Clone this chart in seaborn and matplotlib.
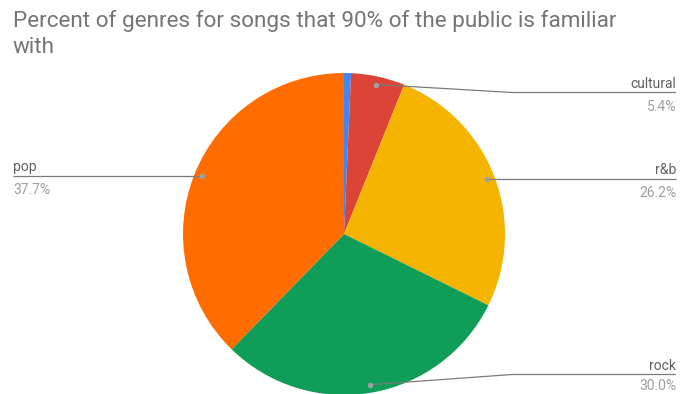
import numpy as np
import matplotlib
matplotlib.use("Agg")
import matplotlib.pyplot as plt
import seaborn as sns

# ---- data ----
genres = ["other", "cultural", "r&b", "rock", "pop"]
percents = [0.7, 5.4, 26.2, 30.0, 37.7]
colors = ["#4285F4", "#DB4437", "#F4B400", "#0F9D58", "#FF6D01"]
title_lines = ["Percent of genres for songs that 90% of the public is familiar", "with"]

sns.set_theme(style="white")
plt.rcParams["font.family"] = ["Roboto", "DejaVu Sans"]

W, H = 687, 394
fig = plt.figure(figsize=(W / 100, H / 100), dpi=100)
ax = fig.add_axes([0, 0, 1, 1])

cx, cy, R = 344, 234, 161  # pixel coords (y from top)

def py(y):
    return H - y

wedges, _ = ax.pie(percents, colors=colors, startangle=90, counterclock=False,
                   center=(cx, py(cy)), radius=R,
                   wedgeprops=dict(linewidth=0))
ax.set_xlim(0, W)
ax.set_ylim(0, H)
ax.set_aspect("equal")
ax.axis("off")

# layout of the labels: side, line y (pixel, None = at dot), elbow x
layout = {
    "cultural": ("right", 92.5, 512),
    "r&b": ("right", None, None),
    "rock": ("right", 374.5, 512),
    "pop": ("left", None, None),
}
line_col = "#7a7a7a"
name_col = "#616161"
pct_col = "#9e9e9e"
for w, g, p in zip(wedges, genres, percents):
    if g not in layout:
        continue
    side, ly, ex = layout[g]
    ang = np.deg2rad((w.theta1 + w.theta2) / 2)
    dx = cx + 0.95 * R * np.cos(ang)
    dy = py(cy) + 0.95 * R * np.sin(ang)
    lyd = dy if ly is None else py(ly)
    if side == "right":
        xs = [dx] + ([ex] if ex else []) + [676]
        ys = [dy] + ([lyd] if ex else []) + [lyd]
        tx, ha = 676, "right"
    else:
        xs = [dx] + ([ex] if ex else []) + [13]
        ys = [dy] + ([lyd] if ex else []) + [lyd]
        tx, ha = 13, "left"
    ax.plot(xs, ys, color=line_col, lw=0.9, solid_capstyle="butt", zorder=3)
    ax.plot([dx], [dy], "o", ms=4, color="#a0a0a0", mec="none", zorder=4)
    ax.text(tx, lyd + 5, g, ha=ha, va="baseline", fontsize=10, color=name_col)
    pct_base = max(lyd - 18, py(390.5))
    ax.text(tx, pct_base, f"{p:.1f}%", ha=ha, va="baseline", fontsize=10, color=pct_col)

for i, line in enumerate(title_lines):
    fig.text(13 / W, 1 - (26.7 + 26.7 * i) / H, line, ha="left", va="baseline",
             fontsize=16.2, color="#757575")

fig.savefig("out.png", dpi=100)
